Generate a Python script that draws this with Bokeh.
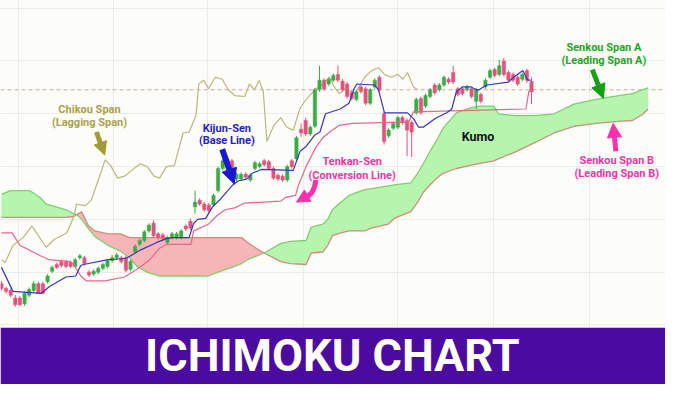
import numpy as np
from bokeh.plotting import figure
from bokeh.models import (Range1d, BoxAnnotation, Label, Span, Arrow, NormalHead,
                          FixedTicker, ColumnDataSource)
from bokeh.embed import file_html
from bokeh.resources import INLINE

# ---------------- data (price units) ----------------
opens = [105,100,98,90,90,84,93,98,105,105,
         107,118,125,128,128,127,123,132,132,117,
         115,117,121,123,129,132,132,132,120,138,
         146,150,160,168,157,156,148,153,153,153,
         165,170,185,192,188,187,187,202,225,235,
         233,214,214,219,213,225,227,233,232,225,
         218,217,213,233,235,266,275,261,269,307,
         317,313,317,323,316,313,304,297,310,308,
         293,310,320,282,259,267,268,278,275,273,
         283,298,290,300,312,307,312,318,325,308,
         308,307,308,295,302,310,320,328,323,337,
         325,323,320,318,327,316]
highs = [108,102,100,93,92,97,101,108,107,107,
         115,124,127,130,130,129,132,136,134,119,
         120,123,127,131,135,137,134,134,130,146,
         152,161,168,171,159,158,155,159,159,162,
         167,173,202,194,190,189,199,227,235,237,
         235,221,221,221,220,233,232,235,234,227,
         220,219,229,235,259,272,278,270,309,332,
         319,320,324,332,318,315,306,307,312,310,
         309,319,322,284,267,274,280,280,277,275,
         299,300,303,309,314,314,322,320,332,310,
         310,312,310,309,304,319,329,330,338,340,
         327,325,322,325,329,320]
lows = [98,95,91,81,82,82,91,96,94,94,
        105,116,120,122,121,121,121,130,124,112,
        113,115,119,121,127,130,126,117,118,136,
        144,148,158,153,151,150,146,151,151,151,
        160,161,178,186,180,179,185,200,223,226,
        223,212,212,214,211,223,225,227,223,213,
        212,211,211,225,233,258,259,259,267,305,
        306,311,315,315,305,298,296,295,303,291,
        291,308,305,250,257,265,266,271,238,237,
        281,281,288,298,302,305,310,313,313,300,
        301,305,298,287,293,308,318,320,321,321,
        315,315,311,316,314,292]
closes = [100,97,93,83,83,95,99,105,95,95,
          113,122,122,124,123,123,130,134,126,114,
          118,121,125,129,132,135,128,119,128,144,
          150,159,166,155,153,152,153,157,157,160,
          162,163,190,188,182,181,197,225,233,228,
          225,219,219,216,218,231,230,229,225,215,
          214,213,227,227,257,262,261,268,307,317,
          308,318,322,317,307,300,298,305,305,293,
          307,317,307,253,265,272,278,273,265,263,
          297,283,301,307,304,312,320,315,315,302,
          303,310,300,307,295,317,327,322,332,323,
          317,317,313,323,317,305]

kijun_x = [0,2.5,8.7,10.4,14,16.1,17.2,17.8,23.1,26.3,27.3,30.1,33.7,35.8,36.9,40.7,41.7,42.6,
           44.3,45.8,47.5,50,51.3,53.2,54.4,56.4,63.3,64.8,66.1,68,69.1,70.3,73.5,75.4,76.5,77.1,
           80.9,81.8,83.1,88.1,89.4,90.5,91.5,94.1,96.6,97.7,98.7,100,101.9,103,103.6,105.3,110,
           110.6,113.1,114.2,114.8]
kijun_y = [122,97,95,102,112,113,124,125,130,131,132,140,148,152,153,153,168,172,
           173,185,193,207,212,214,220,224,223,243,248,260,263,282,287,293,308,313,
           312,307,283,283,277,268,268,277,283,287,305,310,310,307,307,312,315,
           318,327,317,317]

tenkan_x = [0,2.3,4,8.9,10.4,15,15.7,17.2,18.4,22.5,26.7,29.4,32.2,34.3,35.8,41.1,41.7,44.9,
            46.8,48.5,50.6,52.8,60.6,61.7,63.8,64.4,66.1,68.2,69.7,71.2,73.3,76.1,84.5,88.3,
            89.4,113.8,114.4,114.8]
tenkan_y = [158,158,145,133,130,128,125,113,108,108,112,120,130,142,146,146,160,167,
            176,182,184,189,191,195,197,207,227,247,257,263,270,272,273,273,
            284,287,305,307]

chikou_x = [0,0.8,2.5,4.7,6.6,7.6,9.7,11.4,14.2,15.7,16.3,18.2,19.5,21,22.5,23.7,25.2,26.7,
            28,30.1,31.6,33.1,34.3,35.8,37.5,39.4,40.7,42.2,42.8,43.9,44.9,46.4,47.9,49.2,
            50.6,52.8,53.8,54.9,55.9,56.8,57.6,59.1,60.6,61.9,63.3,64.8,66.1,68,69.7,71.2,
            72.2,73.3,74.6,76.7,78.8,80.3,81.8,83.1,84.5,86,87.1,88.1,89.4,90.3]
chikou_y = [130,127,145,153,165,158,143,151,158,175,188,186,192,213,234,228,215,217,
            222,230,227,217,215,227,228,262,263,280,313,317,308,320,318,307,
            301,300,313,307,317,305,253,270,278,268,265,288,297,307,313,320,
            310,303,308,303,320,327,330,323,320,323,318,325,310,307]

cloud_x = [0,1.9,6.1,8.3,9.7,11.9,14,15.7,16.3,17.4,18.9,20.3,23.1,25.8,27.8,29.4,31.6,34.3,
           44.9,46.4,50.6,52.1,53.4,54.9,57,60.6,62.7,66.1,67.2,69.7,70.8,71.8,72.9,75.4,
           78.8,80.3,83.9,85.2,88.8,90.3,91.5,93,94.5,95.8,98.7,101.5,103.6,106.8,107.8,
           111.4,115.7,119.9,124.2,129,133.9,136.9,139,140.3]
span_a = [198,202,202,195,188,185,182,178,177,172,162,154,145,139,132,123,117,113,
          113,116,123,126,130,133,137,147,149,150,164,167,172,182,187,197,
          203,204,207,208,210,220,230,243,255,267,283,288,290,290,282,
          280,280,282,292,297,301,303,307,309]
span_b = [174,174,174,174,174,174,174,175,177,180,165,160,157,157,153,153,153,153,
          153,153,153,153,148,143,137,128,126,125,137,138,145,155,157,160,
          160,163,167,173,180,190,200,208,215,220,225,228,230,233,235,
          242,252,262,269,272,274,275,281,287]

last_price = 307

# ---------------- figure ----------------
p = figure(width=665, height=384, x_range=Range1d(-0.21, 144.07), y_range=Range1d(0, 400),
           output_backend="svg", toolbar_location=None, min_border=0,
           background_fill_color="#fcfcf9", border_fill_color="#fcfcf9")
p.outline_line_color = None
p.xaxis.visible = False
p.yaxis.visible = False
p.xgrid.ticker = FixedTicker(ticks=[3.6, 24.2, 44.7, 65.5, 86.0, 106.8, 127.5])
p.ygrid.ticker = FixedTicker(ticks=[62, 117, 172, 227, 282, 337, 392])
p.grid.grid_line_color = "#ececE6"
p.grid.grid_line_width = 1

p.add_layout(Span(location=last_price, dimension="width", line_color="#d9a3a3",
                  line_dash="4 3", line_width=1, level="underlay"))

# cloud
a = np.array(span_a, dtype=float)
b = np.array(span_b, dtype=float)
top = np.maximum(a, b)
p.varea(x=cloud_x, y1=b, y2=top, fill_color="#b5f5ae")
p.varea(x=cloud_x, y1=a, y2=top, fill_color="#f6b5b6")
p.line(cloud_x, span_a, line_color="#7fcf72", line_width=1.3)
p.line(cloud_x, span_b, line_color="#d38b7c", line_width=1.3)

# chikou
p.line(chikou_x, chikou_y, line_color="#bcb682", line_width=1.2)

# candles
idx = np.arange(len(opens))
o = np.array(opens); c = np.array(closes)
cols = ["#3aab47" if cc > oo else "#e3527c" for oo, cc in zip(opens, closes)]
src = ColumnDataSource(dict(x=idx, o=o, c=c, h=highs, l=lows,
                            top=np.maximum(o, c), bot=np.minimum(o, c), col=cols))
p.segment(x0="x", y0="l", x1="x", y1="h", line_color="col", line_width=1, source=src)
p.vbar(x="x", width=0.72, top="top", bottom="bot", fill_color="col", line_color="col",
       line_width=0.5, source=src)

# tenkan / kijun
p.line(tenkan_x, tenkan_y, line_color="#e5688c", line_width=1.2)
p.line(kijun_x, kijun_y, line_color="#3535c0", line_width=1.2)

# ---------------- annotations ----------------
FONT = "Roboto"

def lab(x, y, t, col, size="11px", font=FONT):
    p.add_layout(Label(x=x, y=y, text=t, text_align="center", text_baseline="middle",
                       text_color=col, text_font=font, text_font_size=size,
                       text_font_style="bold"))

def arr(x0, y0, x1, y1, col, w=5, hs=13):
    p.add_layout(Arrow(end=NormalHead(size=hs, fill_color=col, line_color=col),
                       x_start=x0, y_start=y0, x_end=x1, y_end=y1,
                       line_color=col, line_width=w))

olive = "#a9a34e"
lab(19.1, 286, "Chikou Span", olive)
lab(19.1, 273, "(Lagging Span)", olive)
arr(20.6, 263, 22.4, 239, "#a39b33")

blue = "#2222c8"
lab(48.9, 267, "Kijun-Sen", blue)
lab(48.9, 254, "(Base Line)", blue)
arr(47.9, 245, 50.5, 209, "#1818d0", w=6, hs=15)

mag = "#f236a4"
lab(76.1, 232, "Tenkan-Sen", mag)
lab(76.1, 218, "(Conversion Line)", mag)
p.quadratic(x0=[68.2], y0=[213], x1=[65.8], y1=[195], cx=[67.8], cy=[197],
            line_color="#ff30b0", line_width=5)
arr(65.8, 195, 64.0, 190, "#ff30b0", w=4, hs=13)

lab(103.4, 258, "Kumo", "#111111", size="12.5px")

green = "#23a623"
lab(130.7, 351, "Senkou Span A", green)
lab(130.7, 338, "(Leading Span A)", green)
arr(128.2, 328, 130.6, 298, "#16a016", w=5, hs=14)

lab(133.5, 233, "Senkou Span B", mag)
lab(133.5, 220, "(Leading Span B)", mag)
arr(133.3, 243, 132.7, 272, "#ff30b0", w=5, hs=14)

# banner
p.add_layout(BoxAnnotation(top=59, fill_color="#4b0aa0", fill_alpha=1, line_alpha=0))
p.add_layout(Label(x=71.8, y=30, text="ICHIMOKU CHART", text_align="center",
                   text_baseline="middle", text_color="white", text_font="Roboto",
                   text_font_size="45px", text_font_style="bold"))

open("out.html", "w").write(file_html(p, INLINE))
